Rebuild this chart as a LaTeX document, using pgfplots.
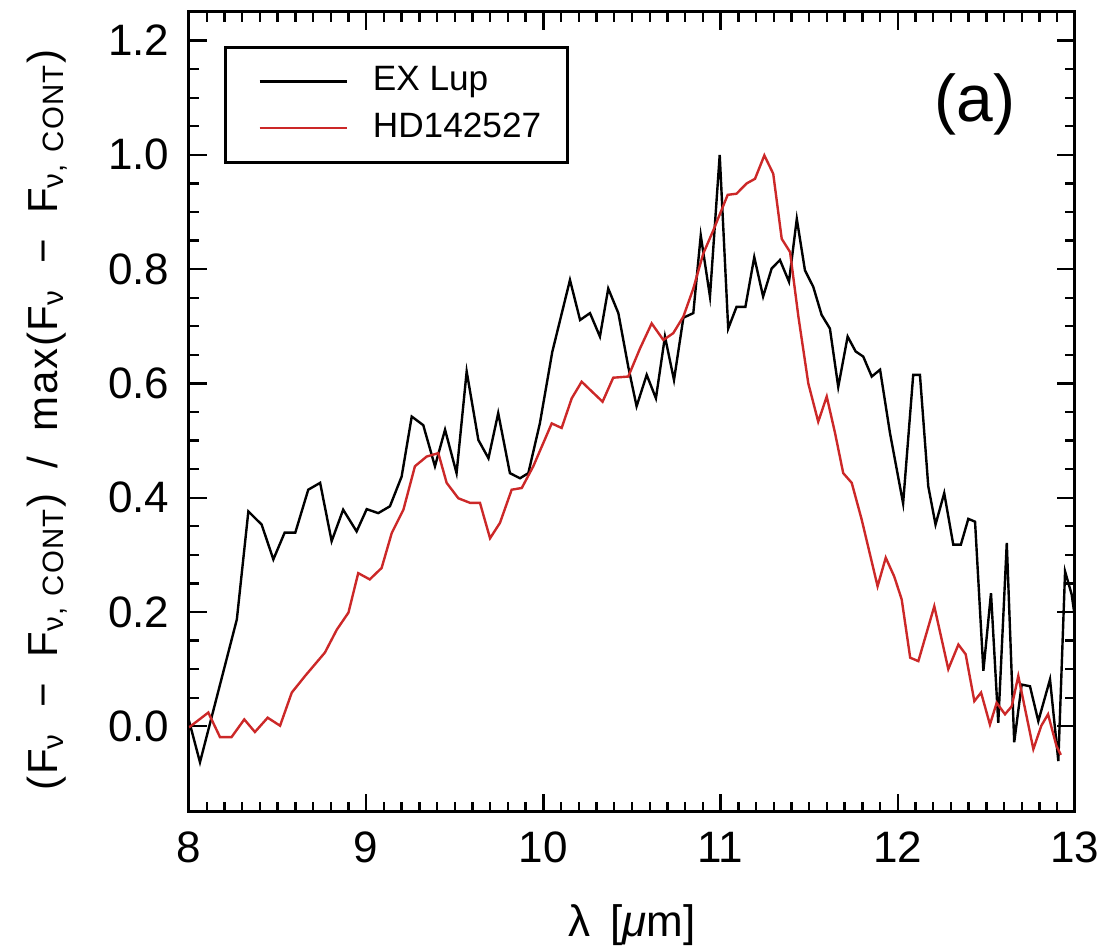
\documentclass[border=0pt]{standalone}
\usepackage{fontspec}
\setmainfont{Liberation Sans}
\usepackage{pgfplots}
\pgfplotsset{compat=1.18}
\definecolor{hdred}{RGB}{204,40,40}
\begin{document}
\begin{tikzpicture}
\begin{axis}[
  name=ax,
  scale only axis,
  width=221.5pt, height=200pt,
  xmin=8, xmax=13, ymin=-0.15, ymax=1.25,
  xtick={8,9,10,11,12,13},
  ytick={0,0.2,0.4,0.6,0.8,1.0,1.2},
  minor x tick num=9,
  minor y tick num=3,
  tick align=inside,
  xtick pos=both, ytick pos=both,
  major tick length=4.5pt,
  minor tick length=2.5pt,
  every tick/.style={black, line width=0.6pt},
  axis line style={line width=0.75pt},
  /pgf/number format/assume math mode=true,
  tick label style={font=\fontsize{11}{13}\selectfont},
  xticklabel style={anchor=north, inner sep=0pt, yshift=-4.8pt},
  yticklabel style={anchor=east, inner sep=0pt, xshift=-4.75pt,
    /pgf/number format/.cd, fixed, fixed zerofill, precision=1},
  xlabel={λ\hspace{0.45em}[{\itshape μ}m]},
  xlabel style={at={(axis description cs:0.5,-0.14125)}, anchor=center, font=\fontsize{11}{13}\selectfont},
  ylabel={\addfontfeature{LetterSpace=4}(F\textsubscript{ν}\hspace{0.6em}−\hspace{0.6em}F\textsubscript{ν,\hspace{0.4em}CONT})\hspace{0.6em}/\hspace{0.6em}max(F\textsubscript{ν}\hspace{0.6em}−\hspace{0.6em}F\textsubscript{ν,\hspace{0.4em}CONT})},
  ylabel style={at={(axis description cs:-0.1603,0.49)}, anchor=center, font=\fontsize{10.5}{12}\selectfont},
  legend style={at={(rel axis cs:0.0395,0.9575)}, anchor=north west,
    draw=black, line width=0.75pt, font=\fontsize{8.8}{10}\selectfont,
    inner xsep=4.5pt, inner ysep=2.75pt, row sep=0pt,
    /tikz/every even column/.append style={column sep=0pt}},
  legend cell align=left,
  legend image code/.code={\path (0pt,0pt); \draw[#1, line width=0.6pt] (3.75pt,0pt) -- (25.5pt,0pt); \path (29.75pt,0pt);},
]
\addplot[black, line width=0.6pt] coordinates {
(8.0,0.01) (8.062,-0.063) (8.27,0.187) (8.335,0.376) (8.41,0.353) (8.476,0.292)
(8.54,0.339) (8.60,0.339) (8.673,0.414) (8.74,0.426) (8.805,0.324) (8.87,0.379)
(8.946,0.341) (9.003,0.380) (9.068,0.373) (9.134,0.385) (9.2,0.437) (9.257,0.542)
(9.322,0.527) (9.388,0.455) (9.445,0.519) (9.51,0.443) (9.567,0.621) (9.633,0.501)
(9.69,0.469) (9.745,0.548) (9.811,0.443) (9.868,0.434) (9.915,0.443) (9.98,0.53)
(10.05,0.655) (10.15,0.781) (10.207,0.711) (10.263,0.723) (10.319,0.682) (10.366,0.766)
(10.423,0.723) (10.479,0.629) (10.526,0.560) (10.583,0.615) (10.635,0.574) (10.686,0.682)
(10.737,0.606) (10.79,0.715) (10.846,0.723) (10.888,0.859) (10.94,0.752) (10.995,1.0)
(11.043,0.696) (11.09,0.734) (11.14,0.734) (11.19,0.821) (11.24,0.752) (11.288,0.801)
(11.335,0.816) (11.386,0.778) (11.43,0.888) (11.476,0.798) (11.523,0.769) (11.57,0.720)
(11.617,0.696) (11.664,0.594) (11.717,0.682) (11.762,0.656) (11.805,0.647) (11.853,0.612)
(11.9,0.624) (11.956,0.513) (12.03,0.39) (12.087,0.615) (12.125,0.615) (12.172,0.420)
(12.213,0.353) (12.262,0.408) (12.313,0.318) (12.356,0.318) (12.398,0.363) (12.436,0.358)
(12.483,0.097) (12.526,0.233) (12.567,0.006) (12.615,0.321) (12.657,-0.028) (12.699,0.073)
(12.746,0.070) (12.793,0.009) (12.859,0.082) (12.906,-0.061) (12.944,0.271) (12.981,0.231)
(13.0,0.19)
};
\addlegendentry{EX Lup}
\addplot[hdred, line width=0.6pt] coordinates {
(8.0,-0.002) (8.109,0.024) (8.175,-0.019) (8.24,-0.019) (8.312,0.012) (8.372,-0.01)
(8.444,0.015) (8.514,0.001) (8.58,0.059) (8.655,0.088) (8.767,0.129) (8.834,0.169)
(8.9,0.199) (8.955,0.268) (9.02,0.257) (9.087,0.277) (9.144,0.338) (9.21,0.379)
(9.275,0.455) (9.341,0.472) (9.407,0.478) (9.454,0.426) (9.52,0.399) (9.586,0.391)
(9.642,0.391) (9.699,0.329) (9.755,0.356) (9.821,0.414) (9.878,0.417) (9.943,0.455)
(10.047,0.530) (10.103,0.522) (10.16,0.574) (10.216,0.603) (10.273,0.586) (10.334,0.568)
(10.394,0.610) (10.479,0.612) (10.545,0.661) (10.611,0.705) (10.677,0.676) (10.733,0.688)
(10.79,0.717) (10.846,0.766) (10.902,0.827) (10.959,0.868) (11.04,0.93) (11.09,0.932)
(11.147,0.950) (11.194,0.958) (11.247,0.999) (11.297,0.967) (11.345,0.853) (11.392,0.830)
(11.439,0.717) (11.495,0.600) (11.551,0.533) (11.599,0.577) (11.646,0.513) (11.692,0.443)
(11.74,0.426) (11.796,0.362) (11.886,0.245) (11.932,0.295) (11.98,0.262) (12.022,0.222)
(12.07,0.120) (12.116,0.114) (12.206,0.210) (12.285,0.100) (12.342,0.143) (12.383,0.126)
(12.432,0.044) (12.47,0.059) (12.52,0.003) (12.558,0.041) (12.605,0.021) (12.643,0.035)
(12.68,0.088) (12.765,-0.040) (12.81,0.001) (12.848,0.021) (12.895,-0.034) (12.92,-0.05)
};
\addlegendentry{HD142527}
\node[font=\fontsize{16.5}{18}\selectfont, anchor=center] at (axis description cs:0.887,0.884) {(a)};
\end{axis}
\pgfresetboundingbox
\path[use as bounding box] ([shift={(-47.25pt,-34.5pt)}]ax.south west) rectangle ([shift={(6.75pt,3pt)}]ax.north east);
\end{tikzpicture}
\end{document}
